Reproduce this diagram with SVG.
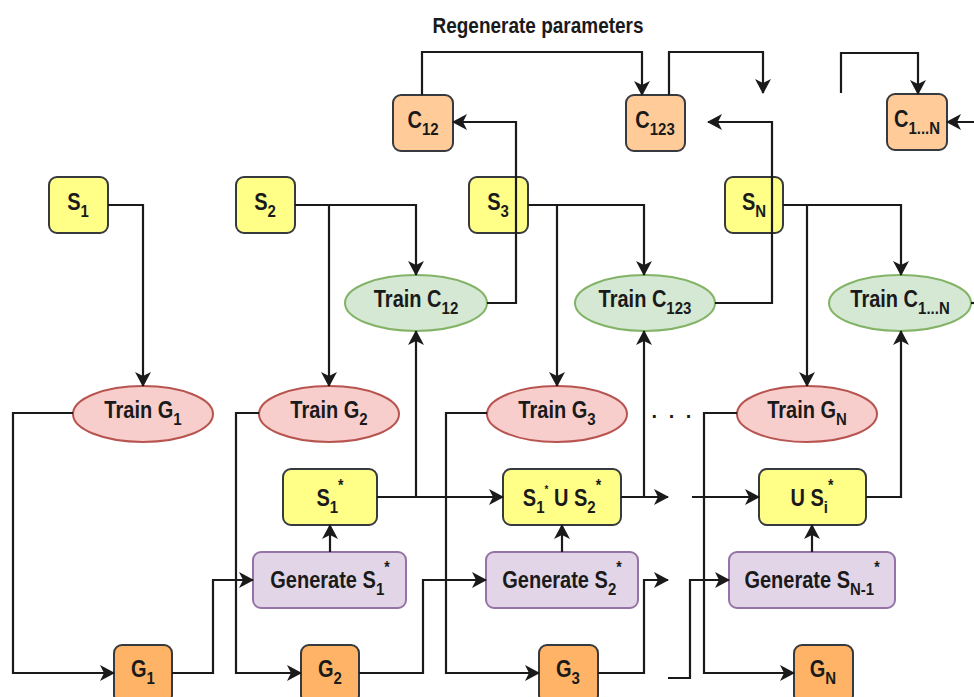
<svg xmlns="http://www.w3.org/2000/svg" width="974" height="697" viewBox="0 0 974 697">
<defs>
<style>
.t{font-family:"Liberation Sans",Arial,Helvetica,sans-serif;font-weight:bold;font-size:20px;fill:#1a1a1a;text-anchor:middle}
.sb{font-size:15px}
.sp{font-size:14px}
.spx{font-size:10px}
.ys{fill:#ffff88;stroke:#36393d;stroke-width:2}
.co{fill:#ffcc99;stroke:#36393d;stroke-width:2}
.go{fill:#ffb366;stroke:#36393d;stroke-width:2}
.gr{fill:#d5e8d4;stroke:#82b366;stroke-width:2}
.rd{fill:#f8cecc;stroke:#b85450;stroke-width:2}
.pu{fill:#e1d5e7;stroke:#9673a6;stroke-width:2}
.ln{fill:none;stroke:#1a1a1a;stroke-width:2.2}
.ar{marker-end:url(#ah)}
</style>
<marker id="ah" viewBox="0 0 15 16" refX="14" refY="8" markerWidth="15" markerHeight="16" markerUnits="userSpaceOnUse" orient="auto">
<path d="M0,0 L15,8 L0,16 L4,8 Z" fill="#1a1a1a"/>
</marker>
</defs>
<rect width="974" height="697" fill="#ffffff"/>

<text class="t" font-size="19" style="font-size:19px" transform="translate(538 33) scale(1 1.12)">Regenerate parameters</text>

<g id="S1"><rect class="ys" x="49" y="177" width="59" height="56" rx="8"/><text class="t" transform="translate(78 210) scale(1 1.15)">S<tspan class="sb" dy="6">1</tspan></text></g>
<g id="S2"><rect class="ys" x="236" y="177" width="59" height="56" rx="8"/><text class="t" transform="translate(265 210) scale(1 1.15)">S<tspan class="sb" dy="6">2</tspan></text></g>
<g id="S3"><rect class="ys" x="469" y="177" width="59" height="56" rx="8"/><text class="t" transform="translate(498 210) scale(1 1.15)">S<tspan class="sb" dy="6">3</tspan></text></g>
<g id="SN"><rect class="ys" x="725" y="177" width="58" height="56" rx="8"/><text class="t" transform="translate(754 210) scale(1 1.15)">S<tspan class="sb" dy="6">N</tspan></text></g>

<g id="C12"><rect class="co" x="393" y="95" width="60" height="56" rx="8"/><text class="t" transform="translate(423 128) scale(1 1.15)">C<tspan class="sb" dy="6">12</tspan></text></g>
<g id="C123"><rect class="co" x="626" y="95" width="59" height="56" rx="8"/><text class="t" transform="translate(655 128) scale(1 1.15)">C<tspan class="sb" dy="6">123</tspan></text></g>
<g id="C1N"><rect class="co" x="887" y="94" width="60" height="56" rx="8"/><text class="t" transform="translate(917 127) scale(1 1.15)">C<tspan class="sb" dy="6">1...N</tspan></text></g>

<g id="TrainC12"><ellipse class="gr" cx="416" cy="303" rx="71" ry="28"/><text class="t" transform="translate(416 307) scale(1 1.15)">Train C<tspan class="sb" dy="6">12</tspan></text></g>
<g id="TrainC123"><ellipse class="gr" cx="645" cy="303" rx="70" ry="28"/><text class="t" transform="translate(645 307) scale(1 1.15)">Train C<tspan class="sb" dy="6">123</tspan></text></g>
<g id="TrainC1N"><ellipse class="gr" cx="900" cy="303" rx="71" ry="28"/><text class="t" transform="translate(900 307) scale(1 1.15)">Train C<tspan class="sb" dy="6">1...N</tspan></text></g>

<g id="TrainG1"><ellipse class="rd" cx="143" cy="414" rx="70" ry="28"/><text class="t" transform="translate(143 418) scale(1 1.15)">Train G<tspan class="sb" dy="6">1</tspan></text></g>
<g id="TrainG2"><ellipse class="rd" cx="329" cy="414" rx="70" ry="28"/><text class="t" transform="translate(329 418) scale(1 1.15)">Train G<tspan class="sb" dy="6">2</tspan></text></g>
<g id="TrainG3"><ellipse class="rd" cx="557" cy="414" rx="70" ry="28"/><text class="t" transform="translate(557 418) scale(1 1.15)">Train G<tspan class="sb" dy="6">3</tspan></text></g>
<g id="TrainGN"><ellipse class="rd" cx="807" cy="414" rx="70" ry="28"/><text class="t" transform="translate(807 418) scale(1 1.15)">Train G<tspan class="sb" dy="6">N</tspan></text></g>

<g id="dots"><text class="t" transform="translate(673 418)" letter-spacing="3">. . .</text></g>

<g id="S1star"><rect class="ys" x="283" y="469" width="94" height="56" rx="8"/><text class="t" transform="translate(330 506) scale(1 1.15)">S<tspan class="sb" dy="6">1</tspan><tspan class="sp" dy="-19">*</tspan></text></g>
<g id="S1US2"><rect class="ys" x="503" y="469" width="118" height="56" rx="8"/><text class="t" transform="translate(562 506) scale(1 1.15)">S<tspan class="sb" dy="6">1</tspan><tspan class="spx" dy="-17">*</tspan><tspan dy="11"> U S</tspan><tspan class="sb" dy="6">2</tspan><tspan class="sp" dy="-19">*</tspan></text></g>
<g id="USi"><rect class="ys" x="759" y="469" width="107" height="56" rx="8"/><text class="t" transform="translate(812 506) scale(1 1.15)">U S<tspan class="sb" dy="6">i</tspan><tspan class="sp" dy="-19">*</tspan></text></g>

<g id="GenS1"><rect class="pu" x="253" y="552" width="153" height="56" rx="8"/><text class="t" transform="translate(330 588) scale(1 1.15)">Generate S<tspan class="sb" dy="6">1</tspan><tspan class="sp" dy="-19">*</tspan></text></g>
<g id="GenS2"><rect class="pu" x="486" y="552" width="152" height="56" rx="8"/><text class="t" transform="translate(562 588) scale(1 1.15)">Generate S<tspan class="sb" dy="6">2</tspan><tspan class="sp" dy="-19">*</tspan></text></g>
<g id="GenSN1"><rect class="pu" x="729" y="552" width="166" height="56" rx="8"/><text class="t" transform="translate(812 588) scale(1 1.15)">Generate S<tspan class="sb" dy="6">N-1</tspan><tspan class="sp" dy="-19">*</tspan></text></g>

<g id="G1"><rect class="go" x="114" y="645" width="58" height="58" rx="8"/><text class="t" transform="translate(143 677) scale(1 1.15)">G<tspan class="sb" dy="6">1</tspan></text></g>
<g id="G2"><rect class="go" x="301" y="645" width="58" height="58" rx="8"/><text class="t" transform="translate(330 677) scale(1 1.15)">G<tspan class="sb" dy="6">2</tspan></text></g>
<g id="G3"><rect class="go" x="539" y="645" width="59" height="58" rx="8"/><text class="t" transform="translate(568 677) scale(1 1.15)">G<tspan class="sb" dy="6">3</tspan></text></g>
<g id="GN"><rect class="go" x="794" y="645" width="59" height="58" rx="8"/><text class="t" transform="translate(823 677) scale(1 1.15)">G<tspan class="sb" dy="6">N</tspan></text></g>

<g id="connectors">
<path class="ln ar" d="M108,205 H143 V386"/>
<path class="ln ar" d="M295,205 H416 V275"/>
<path class="ln ar" d="M329,205 V386"/>
<path class="ln ar" d="M528,205 H644 V275"/>
<path class="ln ar" d="M557,205 V386"/>
<path class="ln ar" d="M783,205 H901 V275"/>
<path class="ln ar" d="M807,205 V386"/>
<path class="ln ar" d="M487,303 H516 V122 H453"/>
<path class="ln ar" d="M715,303 H772 V122 H708"/>
<path class="ln ar" d="M422,95 V52 H642 V95"/>
<path class="ln ar" d="M669,95 V52 H763 V93"/>
<path class="ln ar" d="M841,93 V53 H918 V94"/>
<path class="ln ar" d="M980,122 H947"/>
<path class="ln" d="M971,303 H980"/>
<path class="ln ar" d="M73,413 H13 V673 H114"/>
<path class="ln ar" d="M259,413 H236 V673 H301"/>
<path class="ln ar" d="M487,413 H446 V673 H539"/>
<path class="ln ar" d="M737,413 H704 V673 H794"/>
<path class="ln ar" d="M172,673 H213 V580 H253"/>
<path class="ln ar" d="M359,673 H423 V580 H486"/>
<path class="ln ar" d="M598,673 H644 V580 H668"/>
<path class="ln ar" d="M668,678 H690 V580 H729"/>
<path class="ln ar" d="M330,552 V525"/>
<path class="ln ar" d="M562,552 V525"/>
<path class="ln ar" d="M812,552 V525"/>
<path class="ln ar" d="M377,497 H503"/>
<path class="ln ar" d="M416,497 V331"/>
<path class="ln ar" d="M621,497 H668"/>
<path class="ln ar" d="M644,497 V331"/>
<path class="ln ar" d="M692,497 H759"/>
<path class="ln ar" d="M866,497 H901 V331"/>
</g>
</svg>
